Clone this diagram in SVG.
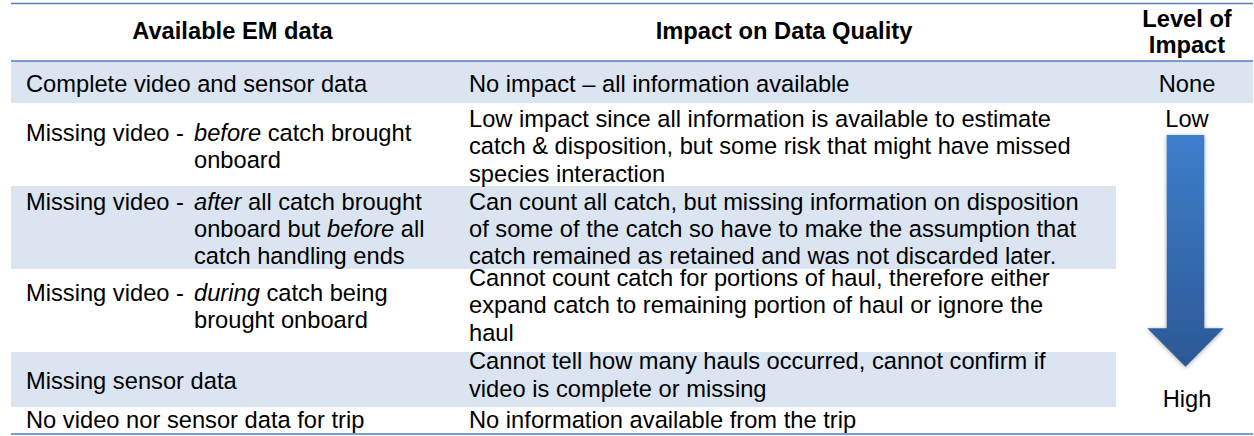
<svg xmlns="http://www.w3.org/2000/svg" width="1254" height="436" viewBox="0 0 1254 436">
  <defs>
    <linearGradient id="arrowGrad" x1="0" y1="0" x2="0" y2="1">
      <stop offset="0" stop-color="#3D7FCC"/>
      <stop offset="1" stop-color="#2C5895"/>
    </linearGradient>
    <filter id="shadow" x="-30%" y="-10%" width="160%" height="120%">
      <feGaussianBlur in="SourceAlpha" stdDeviation="2"/>
      <feOffset dx="0" dy="1" result="b"/>
      <feComponentTransfer><feFuncA type="linear" slope="0.35"/></feComponentTransfer>
      <feMerge><feMergeNode/><feMergeNode in="SourceGraphic"/></feMerge>
    </filter>
  </defs>
  <style>
    text { font-family: "Liberation Sans", Arial, sans-serif; font-size: 23.7px; fill: #000; }
    .hd { font-weight: bold; text-anchor: middle; }
    .c { text-anchor: middle; }
    .it { font-style: italic; }
    .shade { fill: #DBE5F1; }
    .rule { stroke: #4F81BD; stroke-width: 1.6; fill: none; }
  </style>
  <rect width="1254" height="436" fill="#fff"/>

  <g id="shading">
    <rect class="shade" x="11" y="61" width="1242" height="42"/>
    <rect class="shade" x="11" y="186" width="1105" height="83"/>
    <rect class="shade" x="11" y="352" width="1105" height="55"/>
  </g>

  <g id="rules">
    <line class="rule" x1="11" y1="3.5" x2="1253" y2="3.5"/>
    <line class="rule" x1="11" y1="61" x2="1253" y2="61"/>
    <line class="rule" x1="11" y1="434" x2="1253" y2="434"/>
  </g>

  <g id="header">
    <text class="hd" x="232.5" y="39">Available EM data</text>
    <text class="hd" x="784" y="39">Impact on Data Quality</text>
    <text class="hd" x="1187" y="26.7">Level of</text>
    <text class="hd" x="1187" y="53.3">Impact</text>
  </g>

  <g id="row1">
    <text x="26" y="91.7">Complete video and sensor data</text>
    <text x="469" y="91.7">No impact – all information available</text>
    <text class="c" x="1187" y="91.7">None</text>
  </g>

  <g id="row2">
    <text x="26" y="140.7">Missing video - <tspan x="194" class="it">before</tspan> catch brought</text>
    <text x="194" y="168">onboard</text>
    <text x="469" y="127">Low impact since all information is available to estimate</text>
    <text x="469" y="154.4">catch &amp; disposition, but some risk that might have missed</text>
    <text x="469" y="181.8">species interaction</text>
  </g>

  <g id="row3">
    <text x="26" y="209.5">Missing video - <tspan x="194" class="it">after</tspan> all catch brought</text>
    <text x="194" y="236.9">onboard but <tspan class="it">before</tspan> all</text>
    <text x="194" y="264.3">catch handling ends</text>
    <text x="469" y="209.5">Can count all catch, but missing information on disposition</text>
    <text x="469" y="236.9">of some of the catch so have to make the assumption that</text>
    <text x="469" y="264.3">catch remained as retained and was not discarded later.</text>
  </g>

  <g id="row4">
    <text x="26" y="300.7">Missing video - <tspan x="194" class="it">during</tspan> catch being</text>
    <text x="194" y="328">brought onboard</text>
    <text x="469" y="286">Cannot count catch for portions of haul, therefore either</text>
    <text x="469" y="313.3">expand catch to remaining portion of haul or ignore the</text>
    <text x="469" y="340.7">haul</text>
  </g>

  <g id="row5">
    <text x="26" y="389">Missing sensor data</text>
    <text x="469" y="369.3">Cannot tell how many hauls occurred, cannot confirm if</text>
    <text x="469" y="396.7">video is complete or missing</text>
  </g>

  <g id="row6">
    <text x="26" y="427.5">No video nor sensor data for trip</text>
    <text x="469" y="427.5">No information available from the trip</text>
  </g>

  <g id="level-arrow">
    <text class="c" x="1187" y="126.7">Low</text>
    <path d="M1166.7,135 H1204.3 V328.3 H1223.7 L1185.5,366.7 L1147.3,328.3 H1166.7 Z" fill="url(#arrowGrad)" filter="url(#shadow)"/>
    <text class="c" x="1187" y="406.7">High</text>
  </g>
</svg>
